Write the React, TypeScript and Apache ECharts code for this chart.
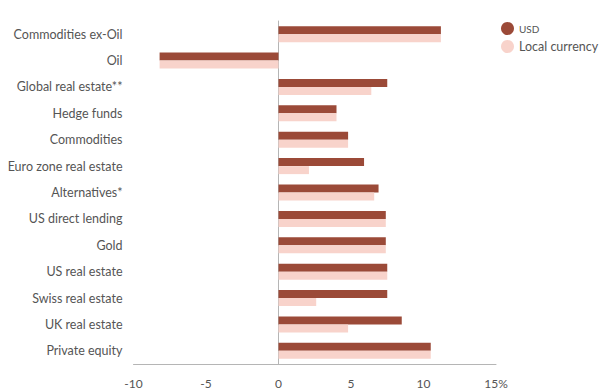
import React, { useEffect, useRef } from "react";
import * as echarts from "echarts";

const categories = [
  "Commodities ex-Oil",
  "Oil",
  "Global real estate**",
  "Hedge funds",
  "Commodities",
  "Euro zone real estate",
  "Alternatives*",
  "US direct lending",
  "Gold",
  "US real estate",
  "Swiss real estate",
  "UK real estate",
  "Private equity",
];
const usdValues = [11.2, -8.2, 7.5, 4.0, 4.8, 5.9, 6.9, 7.4, 7.4, 7.5, 7.5, 8.5, 10.5];
const localValues = [11.2, -8.2, 6.4, 4.0, 4.8, 2.1, 6.6, 7.4, 7.4, 7.5, 2.6, 4.8, 10.5];
const xTicks = { min: -10, max: 15, interval: 5 };

export default function App() {
  const ref = useRef<HTMLDivElement>(null);
  useEffect(() => {
    if (!ref.current) return;
    const chart = echarts.init(ref.current, null, { renderer: "svg" });
    const font = "Lato, 'Open Sans', sans-serif";
    chart.setOption({
      animation: false,
      backgroundColor: "#ffffff",
      textStyle: { fontFamily: font },
      grid: { left: 133.5, right: 110, top: 21, bottom: 24, containLabel: false },
      legend: {
        orient: "vertical",
        left: 496,
        top: 17,
        icon: "circle",
        itemWidth: 13,
        itemHeight: 13,
        itemGap: 5,
        textStyle: {
          color: "#555",
          fontSize: 12.5,
          fontFamily: font,
          rich: { sc: { fontSize: 10, color: "#555", fontFamily: font } },
        },
        formatter: (name: string) => (name === "USD" ? "{sc|USD}" : name),
        data: ["USD", "Local currency"],
        selectedMode: false,
      },
      xAxis: {
        type: "value",
        min: xTicks.min,
        max: xTicks.max,
        interval: xTicks.interval,
        axisLine: { show: true, lineStyle: { color: "#b5b5b5", width: 1 } },
        axisTick: { show: false },
        splitLine: { show: false },
        axisLabel: {
          color: "#555",
          fontSize: 12,
          fontFamily: font,
          margin: 13,
          formatter: (v: number) => (v === xTicks.max ? v + "%" : String(v)),
        },
      },
      yAxis: {
        type: "category",
        data: categories,
        inverse: true,
        axisLine: { show: true, lineStyle: { color: "#b5b5b5", width: 1 } },
        axisTick: { show: false },
        axisLabel: { color: "#555", fontSize: 12.5, fontFamily: font, margin: 11 },
      },
      series: [
        {
          name: "USD",
          type: "bar",
          data: usdValues,
          barWidth: 8,
          barGap: "0%",
          itemStyle: { color: "#9b4a38" },
        },
        {
          name: "Local currency",
          type: "bar",
          data: localValues,
          barWidth: 8,
          barGap: "0%",
          itemStyle: { color: "#f8d3cb" },
        },
      ],
    });
    return () => chart.dispose();
  }, []);
  return (
    <div
      ref={ref}
      style={{ position: "fixed", left: 0, top: 0, width: 606, height: 389 }}
    />
  );
}
